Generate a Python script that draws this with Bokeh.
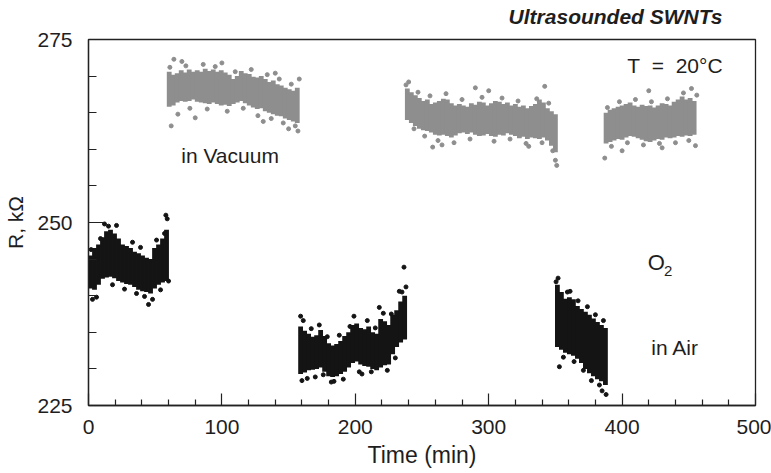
from bokeh.plotting import figure
from bokeh.models import Range1d, FixedTicker, Label, ColumnDataSource, Title
from bokeh.embed import file_html
from bokeh.resources import INLINE

# ---------------- data ----------------
x_ticks = [0, 100, 200, 300, 400, 500]
x_minor = [20, 40, 60, 80, 120, 140, 160, 180, 220, 240, 260, 280,
           320, 340, 360, 380, 420, 440, 460, 480]
y_ticks = [225, 250, 275]
y_minor = [230, 235, 240, 245, 255, 260, 265, 270]

# in air (black) – column centres (min), lower / upper edge of the dense cloud (kOhm)
air1_t = [1.5, 4.5, 7.5, 10.5, 13.5, 16.5, 19.5, 22.5, 25.5, 28.5,
          31.5, 34.5, 37.5, 40.5, 43.5, 46.5, 49.5, 52.5, 55.5, 58.5]
air1_lo = [241.0, 240.8, 241.5, 242.3, 242.5, 242.6, 242.4, 242.0, 241.8, 241.6,
           241.5, 241.2, 240.8, 240.6, 240.5, 240.3, 241.0, 241.5, 241.8, 242.0]
air1_hi = [245.5, 246.5, 247.0, 248.0, 248.8, 249.0, 248.5, 247.8, 247.0, 246.8,
           246.5, 246.0, 245.8, 245.5, 245.2, 245.0, 246.5, 247.0, 247.8, 249.0]

air2_t = [159, 162, 165, 168, 171, 174, 177, 180, 183, 186, 189, 192, 195, 198,
          201, 204, 207, 210, 213, 216, 219, 222, 225, 228, 231, 234, 237]
air2_lo = [229.3, 229.5, 229.8, 229.9, 230.0, 230.2, 229.6, 229.0, 228.9, 229.0,
           229.3, 229.6, 230.2, 230.8, 231.0, 230.6, 230.4, 230.3, 230.0, 229.8,
           230.2, 230.5, 230.6, 232.0, 233.0, 233.6, 234.0]
air2_hi = [235.8, 235.2, 234.8, 234.4, 234.6, 235.3, 234.5, 233.5, 233.2, 233.4,
           233.8, 234.5, 235.0, 236.0, 236.2, 235.6, 235.4, 235.8, 235.0, 234.8,
           236.8, 236.5, 236.0, 237.4, 238.0, 239.2, 240.0]

air3_t = [351.5, 354.5, 357.5, 360.5, 363.5, 366.5, 369.5, 372.5, 375.5,
          378.5, 381.5, 384.5, 387.5]
air3_lo = [233.0, 232.6, 232.2, 232.0, 231.8, 231.4, 230.8, 230.0, 229.4,
           229.0, 228.6, 228.3, 227.8]
air3_hi = [241.5, 240.5, 239.6, 239.8, 239.5, 238.6, 238.2, 237.8, 237.4,
           236.9, 236.4, 236.0, 235.6]

# scattered points around the air clouds
air_out_t = [59, 58, 45, 3, 12, 60, 236.5, 159, 160, 184, 205, 218, 233,
             352, 353, 361, 385, 388,
             2, 6, 9, 15, 18, 21, 27, 33, 36, 39, 42, 48, 51, 54, 57,
             161, 164, 167, 170, 173, 176, 179, 182, 188, 191, 196, 199, 203,
             209, 212, 215, 221, 224, 227, 230, 235, 238,
             350.5, 356, 359, 364, 367, 371, 374, 377, 380, 383, 386]
air_out_r = [250.5, 251.0, 238.8, 239.5, 249.8, 242.0, 243.9, 237.2, 228.4, 228.3,
             229.3, 238.4, 240.6, 242.4, 230.3, 240.6, 227.0, 226.5,
             246.3, 239.8, 247.8, 249.5, 241.5, 249.6, 240.9, 247.3, 240.3, 246.6,
             239.9, 239.5, 247.6, 240.8, 248.5,
             236.6, 228.7, 235.5, 228.9, 236.0, 229.2, 234.4, 228.2, 234.6, 228.6,
             235.8, 237.2, 229.6, 236.6, 229.6, 235.6, 237.6, 229.8, 237.5, 231.5,
             240.5, 241.2,
             241.9, 231.6, 240.5, 231.0, 239.3, 229.8, 238.5, 228.4, 237.4, 227.8,
             236.6]

# in vacuum (grey)
vac1_t = [60.5, 63.5, 66.5, 69.5, 72.5, 75.5, 78.5, 81.5, 84.5, 87.5, 90.5,
          93.5, 96.5, 99.5, 102.5, 105.5, 108.5, 111.5, 114.5, 117.5, 120.5,
          123.5, 126.5, 129.5, 132.5, 135.5, 138.5, 141.5, 144.5, 147.5, 150.5,
          153.5, 156.5]
vac1_lo = [265.8, 266.0, 266.4, 266.6, 266.5, 266.6, 266.8, 266.5, 266.4, 266.3,
           266.2, 266.4, 266.2, 266.0, 266.1, 265.9, 266.2, 266.4, 266.6, 266.3,
           266.0, 265.7, 265.5, 265.6, 265.2, 265.0, 264.8, 264.6, 264.5, 264.2,
           264.0, 263.8, 263.6]
vac1_hi = [270.6, 270.2, 270.4, 270.8, 270.5, 270.9, 270.6, 270.8, 270.6, 271.0,
           270.7, 270.9, 270.6, 270.8, 270.5, 270.2, 269.6, 270.0, 270.7, 270.4,
           270.3, 269.9, 269.8, 270.0, 269.6, 269.2, 269.4, 268.9, 268.7, 268.4,
           268.2, 268.0, 268.4]

vac2_t = [239, 242, 245, 248, 251, 254, 257, 260, 263, 266, 269, 272, 275, 278,
          281, 284, 287, 290, 293, 296, 299, 302, 305, 308, 311, 314, 317, 320,
          323, 326, 329, 332, 335, 338, 341, 344, 347, 350]
vac2_lo = [264.0, 263.6, 263.2, 262.8, 262.6, 262.5, 262.3, 262.0, 261.9, 262.0,
           261.8, 261.6, 261.9, 262.2, 262.3, 262.1, 262.3, 262.0, 261.8, 261.9,
           262.1, 261.8, 261.7, 262.0, 261.9, 262.2, 262.0, 261.8, 261.5, 261.7,
           261.4, 261.6, 261.5, 261.4, 261.6, 261.2, 260.5, 259.6]
vac2_hi = [268.3, 267.8, 267.4, 267.0, 266.6, 266.8, 266.2, 266.4, 266.6, 266.9,
           266.8, 266.3, 266.0, 266.2, 266.0, 265.8, 266.3, 266.1, 266.5, 266.4,
           266.0, 266.3, 266.6, 266.5, 266.2, 266.4, 266.0, 266.2, 265.8, 266.0,
           265.6, 265.9, 266.2, 266.8, 266.4, 265.6, 265.2, 264.8]

vac3_t = [388, 391, 394, 397, 400, 403, 406, 409, 412, 415, 418, 421, 424, 427,
          430, 433, 436, 439, 442, 445, 448, 451, 454]
vac3_lo = [260.8, 261.0, 261.2, 261.4, 261.3, 261.6, 261.8, 261.7, 261.5, 261.3,
           261.1, 261.0, 261.2, 261.4, 261.3, 261.6, 261.5, 261.6, 261.8, 261.7,
           261.9, 261.8, 262.0]
vac3_hi = [265.0, 265.4, 265.6, 265.8, 266.0, 266.2, 266.4, 266.0, 265.8, 266.1,
           265.9, 266.0, 265.7, 266.0, 266.3, 266.2, 266.0, 266.5, 266.8, 267.2,
           266.8, 267.0, 266.6]

# scattered points around the vacuum clouds
vac_out_t = [62, 64, 80, 70, 100, 131, 150, 157, 158, 140, 240, 258, 265, 300,
             330, 342, 350, 351, 290, 387, 400, 420, 452, 455, 430,
             61, 67, 73, 76, 86, 89, 95, 104, 110, 116, 122, 127, 134, 137, 143,
             146, 152, 155,
             238, 244, 247, 252, 256, 262, 268, 274, 280, 286, 295, 304, 310, 316,
             322, 328, 336, 340, 345, 348,
             389, 392, 398, 404, 410, 416, 422, 428, 434, 440, 446, 450, 456]
vac_out_r = [263.2, 272.3, 264.3, 272.0, 271.8, 263.8, 262.8, 262.5, 269.6, 270.4,
             269.2, 260.3, 260.6, 268.0, 260.4, 268.6, 258.5, 257.8, 268.4, 258.8,
             259.8, 268.0, 268.3, 260.5, 260.2,
             271.2, 264.8, 271.4, 265.6, 271.6, 265.5, 271.3, 265.2, 270.6, 265.6,
             270.9, 264.6, 270.2, 264.2, 269.6, 263.6, 268.9, 263.2,
             268.8, 262.8, 267.8, 261.8, 267.3, 261.2, 267.6, 260.9, 266.8, 261.4,
             267.1, 261.1, 267.0, 261.4, 266.6, 260.8, 266.9, 260.9, 266.3, 259.8,
             265.7, 260.4, 266.5, 260.9, 266.8, 260.6, 266.5, 260.8, 266.9, 260.9,
             267.7, 261.2, 267.4]

# ---------------- figure ----------------
FONT = "Liberation Sans"
TXT = "#1e1e1e"
AIR = "#141414"
VAC = "#8e8e8e"

p = figure(width=771, height=473, output_backend="svg", toolbar_location=None,
           title=None,
           x_range=Range1d(0, 500), y_range=Range1d(225, 275),
           min_border_left=88, min_border_right=16, min_border_top=39,
           min_border_bottom=68)
p.background_fill_color = "white"
p.border_fill_color = "white"
p.outline_line_color = "#222222"
p.outline_line_width = 1.3
p.xgrid.visible = False
p.ygrid.visible = False

# spacer below the title, then the title itself (further from the frame)
p.add_layout(Title(text="\u00a0", text_font=FONT, text_font_size="9px",
                   standoff=0), "above")
p.add_layout(Title(text="Ultrasounded SWNTs", align="right", offset=33,
                   text_font=FONT, text_font_size="21px",
                   text_font_style="bold italic", text_color=TXT,
                   standoff=0), "above")

def band(t, lo, hi, color):
    src = ColumnDataSource(dict(t=t, lo=lo, hi=hi))
    p.vbar(x="t", width=3.6, top="hi", bottom="lo", source=src,
           fill_color=color, line_color=None)

band(vac1_t, vac1_lo, vac1_hi, VAC)
band(vac2_t, vac2_lo, vac2_hi, VAC)
band(vac3_t, vac3_lo, vac3_hi, VAC)
band(air1_t, air1_lo, air1_hi, AIR)
band(air2_t, air2_lo, air2_hi, AIR)
band(air3_t, air3_lo, air3_hi, AIR)
p.scatter(vac_out_t, vac_out_r, size=4, color=VAC)
p.scatter(air_out_t, air_out_r, size=4, color=AIR)

# axes
for ax in (p.xaxis[0], p.yaxis[0]):
    ax.axis_line_color = "#222222"
    ax.axis_line_width = 1.3
    ax.major_tick_line_color = "#222222"
    ax.minor_tick_line_color = "#222222"
    ax.major_tick_line_width = 1.2
    ax.minor_tick_line_width = 1.2
    ax.major_tick_out = 0
    ax.minor_tick_out = 0
    ax.major_label_text_font = FONT
    ax.major_label_text_font_size = "21px"
    ax.major_label_text_color = TXT
    ax.axis_label_text_font = FONT
    ax.axis_label_text_font_style = "normal"
    ax.axis_label_text_color = TXT

p.xaxis.axis_label_text_font_size = "23px"
p.yaxis.axis_label_text_font_size = "21px"
p.xaxis.ticker = FixedTicker(ticks=x_ticks, minor_ticks=x_minor)
p.yaxis.ticker = FixedTicker(ticks=y_ticks, minor_ticks=y_minor)
p.xaxis.major_tick_in = 12
p.xaxis.minor_tick_in = 6
p.yaxis.major_tick_in = 16
p.yaxis.minor_tick_in = 8
p.xaxis.major_label_standoff = 14
p.yaxis.major_label_standoff = 16
p.xaxis.axis_label = "Time (min)"
p.yaxis.axis_label = "R, kΩ"
p.xaxis.axis_label_standoff = 5
p.yaxis.axis_label_standoff = 7

def lab(text, x, y, size="21px", style="normal", align="left"):
    p.add_layout(Label(x=x, y=y, text=text, text_font=FONT, text_font_size=size,
                       text_font_style=style, text_color=TXT, text_align=align,
                       text_baseline="middle"))

lab("T\u00a0\u00a0=\u00a0\u00a020°C", 475.3, 271.4, align="right")
lab("in Vacuum", 69.5, 259.2)
lab("O", 419.3, 244.5, size="22px")
lab("2", 431.5, 243.4, size="15px")
lab("in Air", 421.9, 232.9)

open("out.html", "w").write(file_html(p, INLINE))
